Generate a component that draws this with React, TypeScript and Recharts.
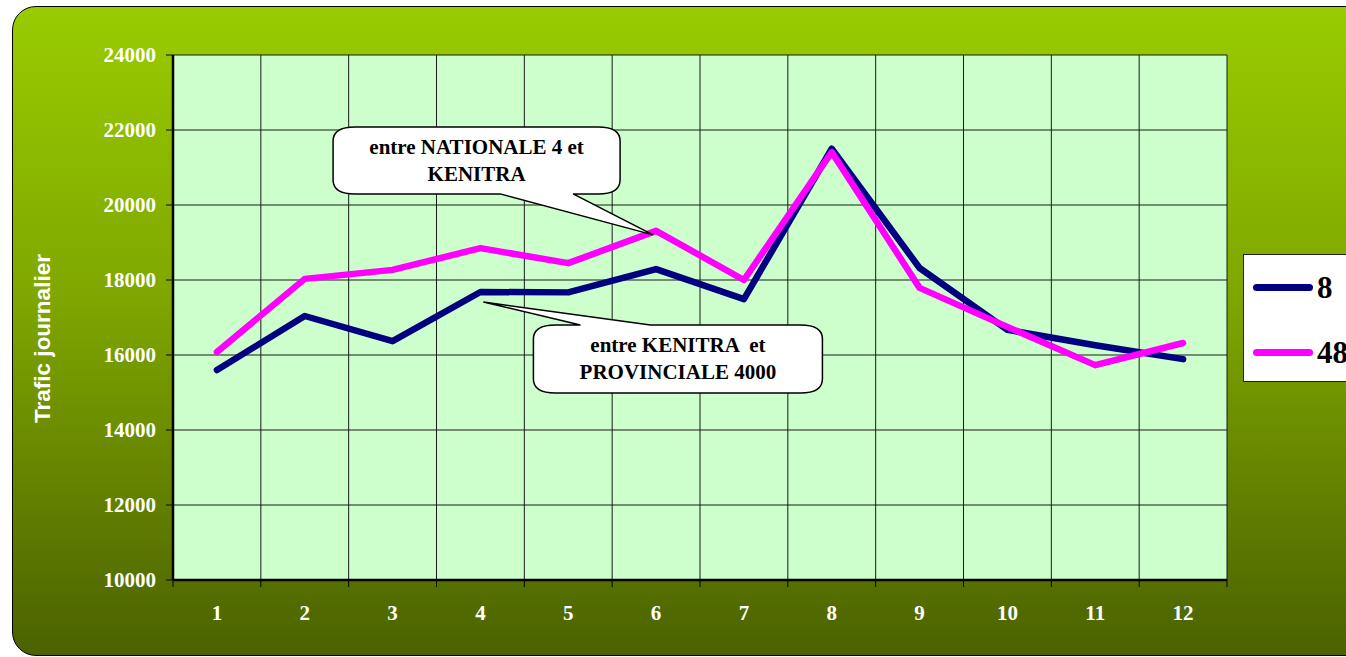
import React from 'react';
import { LineChart, Line, XAxis, YAxis, CartesianGrid, Legend, ReferenceDot, Label } from 'recharts';

// values
const categories = [1, 2, 3, 4, 5, 6, 7, 8, 9, 10, 11, 12];
const series8 = [15600, 17040, 16370, 17680, 17670, 18290, 17490, 21500, 18320, 16670, 16260, 15890];
const series48 = [16080, 18030, 18270, 18850, 18450, 19310, 18000, 21410, 17790, 16750, 15730, 16320];
const yTicks = [10000, 12000, 14000, 16000, 18000, 20000, 22000, 24000];
const seriesNames = ['8', '48'];
const calloutTop = ['entre NATIONALE 4 et', 'KENITRA'];
const calloutBottom = ['entre KENITRA  et', 'PROVINCIALE 4000'];

const chartData = categories.map((c, i) => ({
  idx: c,
  s8: series8[i],
  s48: series48[i],
}));

// band boundaries (for grid + tick marks) and band centres (for labels)
const boundaries = [categories[0] - 0.5, ...categories.map((c) => c + 0.5)];
const xTicks = [...boundaries, ...categories].sort((a, b) => a - b);

const serif = '"Liberation Serif", "Times New Roman", serif';
const sans = '"Liberation Sans", Arial, sans-serif';

function XTick({ x, y, payload }: any) {
  const v = payload.value;
  if (Number.isInteger(v)) {
    return (
      <text x={x} y={y + 40} textAnchor="middle" fill="#fff" fontFamily={serif} fontWeight="bold" fontSize={21}>
        {v}
      </text>
    );
  }
  return <line x1={x} y1={y} x2={x} y2={y + 7} stroke="#000" strokeWidth={1} />;
}

type CalloutOpts = {
  dx: number;
  dy: number;
  w: number;
  h: number;
  side: 'top' | 'bottom';
  b1: number;
  b2: number;
  tipDx: number;
  tipDy: number;
  lines: string[];
};

function calloutShape(o: CalloutOpts) {
  return (props: any) => {
    const { cx, cy } = props;
    const x = cx + o.dx;
    const y = cy + o.dy;
    const { w, h } = o;
    const rx = 22;
    const ry = 14;
    const tx = cx + o.tipDx;
    const ty = cy + o.tipDy;
    const b1 = cx + o.b1;
    const b2 = cx + o.b2;
    let d = `M ${x + rx},${y} `;
    if (o.side === 'top') d += `H ${b1} L ${tx},${ty} L ${b2},${y} `;
    d += `H ${x + w - rx} Q ${x + w},${y} ${x + w},${y + ry} V ${y + h - ry} Q ${x + w},${y + h} ${x + w - rx},${y + h} `;
    if (o.side === 'bottom') d += `H ${b2} L ${tx},${ty} L ${b1},${y + h} `;
    d += `H ${x + rx} Q ${x},${y + h} ${x},${y + h - ry} V ${y + ry} Q ${x},${y} ${x + rx},${y} Z`;
    return (
      <g>
        <path d={d} fill="#fff" stroke="#000" strokeWidth={1.5} />
        {o.lines.map((t, i) => (
          <text
            key={i}
            x={x + w / 2}
            y={y + 20 + i * 27}
            dy="0.35em"
            textAnchor="middle"
            fontFamily={serif}
            fontWeight="bold"
            fontSize={21}
            fill="#000"
            style={{ whiteSpace: 'pre' }}
          >
            {t}
          </text>
        ))}
      </g>
    );
  };
}

function LegendBox({ payload }: any) {
  const items = [...(payload || [])].sort(
    (a: any, b: any) => seriesNames.indexOf(a.value) - seriesNames.indexOf(b.value)
  );
  return (
    <div
      style={{
        width: 130,
        height: 128,
        background: '#fff',
        border: '1.5px solid #222',
        boxSizing: 'border-box',
        paddingTop: 16,
      }}
    >
      {items.map((p: any, i: number) => (
        <div key={i} style={{ display: 'flex', alignItems: 'center', height: 33, marginBottom: i === 0 ? 32 : 0 }}>
          <div style={{ width: 60, height: 7, borderRadius: 4, background: p.color, marginLeft: 9 }} />
          <span style={{ fontFamily: serif, fontWeight: 'bold', fontSize: 31, color: '#000', marginLeft: 4, lineHeight: 1 }}>
            {p.value}
          </span>
        </div>
      ))}
    </div>
  );
}

export default function App() {
  return (
    <div style={{ position: 'absolute', left: 0, top: 0, width: 1346, height: 657, overflow: 'hidden', background: '#fff' }}>
      <div
        style={{
          position: 'absolute',
          left: 12,
          top: 6,
          width: 1420,
          height: 648,
          borderRadius: 24,
          border: '1.5px solid #000',
          background: 'linear-gradient(#99cc00 0%, #7fa600 45%, #4b6200 100%)',
        }}
      />
      <div style={{ position: 'absolute', left: 0, top: 0 }}>
        <LineChart width={1346} height={657} data={chartData} margin={{ top: 55, right: 119, bottom: 47, left: 0 }}>
          <CartesianGrid
            fill="#ccffcc"
            stroke="#1a1a1a"
            strokeWidth={1}
            horizontalValues={yTicks}
            verticalValues={boundaries}
          />
          <XAxis
            dataKey="idx"
            type="number"
            domain={[boundaries[0], boundaries[boundaries.length - 1]]}
            ticks={xTicks}
            interval={0}
            tick={<XTick />}
            tickLine={false}
            tickSize={0}
            tickMargin={0}
            height={30}
            axisLine={{ stroke: '#000', strokeWidth: 2.5 }}
          />
          <YAxis
            type="number"
            domain={[10000, 24000]}
            ticks={yTicks}
            interval={0}
            width={173}
            tickSize={7}
            tickMargin={10}
            tickLine={{ stroke: '#000' }}
            axisLine={{ stroke: '#000', strokeWidth: 2.5 }}
            tick={{ fill: '#fff', fontFamily: serif, fontWeight: 'bold', fontSize: 21 }}
          >
            <Label
              content={(p: any) => {
                const vb = p.viewBox;
                const lx = 42;
                const ly = vb.y + vb.height / 2 + 21;
                return (
                  <text
                    x={lx}
                    y={ly}
                    transform={`rotate(-90 ${lx} ${ly})`}
                    textAnchor="middle"
                    dy="0.35em"
                    fill="#fff"
                    fontFamily={sans}
                    fontWeight="bold"
                    fontSize={22.5}
                  >
                    Trafic journalier
                  </text>
                );
              }}
            />
          </YAxis>
          <Line
            dataKey="s8"
            name={seriesNames[0]}
            stroke="#000080"
            strokeWidth={6.5}
            strokeLinecap="round"
            strokeLinejoin="round"
            dot={false}
            activeDot={false}
            isAnimationActive={false}
          />
          <Line
            dataKey="s48"
            name={seriesNames[1]}
            stroke="#ff00ff"
            strokeWidth={6.5}
            strokeLinecap="round"
            strokeLinejoin="round"
            dot={false}
            activeDot={false}
            isAnimationActive={false}
          />
          <ReferenceDot
            x={categories[5]}
            y={series48[5]}
            r={0}
            ifOverflow="visible"
            shape={calloutShape({
              dx: -323,
              dy: -104,
              w: 287,
              h: 67,
              side: 'bottom',
              b1: -156,
              b2: -83,
              tipDx: -3,
              tipDy: 4,
              lines: calloutTop,
            })}
          />
          <ReferenceDot
            x={categories[3]}
            y={series8[3]}
            r={0}
            ifOverflow="visible"
            shape={calloutShape({
              dx: 53,
              dy: 33,
              w: 289,
              h: 68,
              side: 'top',
              b1: 100,
              b2: 170,
              tipDx: 3,
              tipDy: 10,
              lines: calloutBottom,
            })}
          />
          <Legend
            layout="vertical"
            align="center"
            verticalAlign="middle"
            content={<LegendBox />}
            wrapperStyle={{ left: 1243, top: 254, width: 130, height: 128 }}
          />
        </LineChart>
      </div>
    </div>
  );
}
